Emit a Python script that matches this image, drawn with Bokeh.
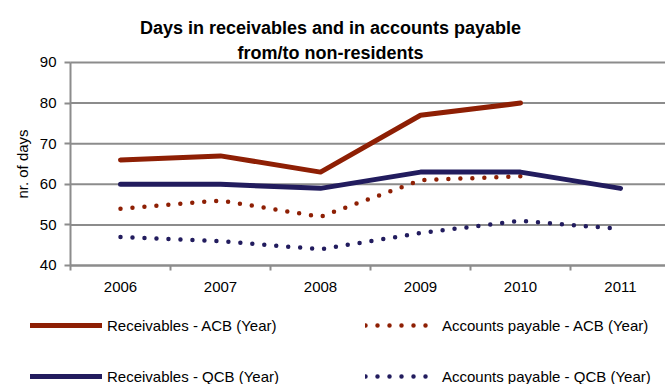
from bokeh.plotting import figure
from bokeh.models import Range1d, FixedTicker, Legend, LegendItem, Label
from bokeh.embed import file_html
from bokeh.resources import INLINE

years = ["2006", "2007", "2008", "2009", "2010", "2011"]
rec_acb = [66, 67, 63, 77, 80]
ap_acb = [54, 56, 52, 61, 62]
rec_qcb = [60, 60, 59, 63, 63, 59]
ap_qcb = [47, 46, 44, 48, 51, 49]
y_ticks = [40, 50, 60, 70, 80, 90]
title_lines = ["Days in receivables and in accounts payable", "from/to non-residents"]

RED = "#8e1f04"
NAVY = "#221c5e"
GRID = "#8c8c8c"
FONT = "Liberation Sans, Arial, sans-serif"

pos = [i + 0.5 for i in range(len(years))]

# the frame covers the whole canvas; axes are pinned inside it
p = figure(width=665, height=384, output_backend="svg", toolbar_location=None,
           x_range=Range1d(-0.70, 5.95), y_range=Range1d(10.69, 105.27),
           min_border_left=0, min_border_right=0, min_border_top=0, min_border_bottom=0)
p.outline_line_color = None
p.background_fill_color = "white"
p.border_fill_color = "white"

for txt, sy in zip(title_lines, [357, 332]):
    p.add_layout(Label(x=330, y=sy, x_units="screen", y_units="screen", text=txt,
                       text_align="center", text_baseline="middle", text_font=FONT,
                       text_font_size="18px", text_font_style="bold", text_color="black"))

# gridlines from the y axis to the right edge
p.xgrid.grid_line_color = None
p.ygrid.grid_line_color = None
p.segment(x0=[0] * len(y_ticks), x1=[len(years)] * len(y_ticks), y0=y_ticks, y1=y_ticks,
          line_color=GRID, line_width=2)

xa = p.xaxis[0]
xa.fixed_location = y_ticks[0]
xa.bounds = (0, len(years))
xa.ticker = FixedTicker(ticks=pos, minor_ticks=list(range(len(years) + 1)))
xa.major_label_overrides = {pos[i]: years[i] for i in range(len(years))}
xa.major_tick_line_color = None
xa.major_tick_in = 0
xa.major_tick_out = 5
xa.minor_tick_in = 0
xa.minor_tick_out = 5
xa.minor_tick_line_color = GRID
xa.minor_tick_line_width = 2
xa.axis_line_color = GRID
xa.axis_line_width = 2
xa.major_label_text_font = FONT
xa.major_label_text_font_size = "15px"
xa.major_label_text_color = "black"
xa.major_label_standoff = 12

ya = p.yaxis[0]
ya.fixed_location = 0
ya.bounds = (y_ticks[0], y_ticks[-1])
ya.ticker = FixedTicker(ticks=y_ticks, minor_ticks=[])
ya.major_tick_in = 0
ya.major_tick_out = 6
ya.major_tick_line_color = GRID
ya.major_tick_line_width = 2
ya.axis_line_color = GRID
ya.axis_line_width = 2
ya.major_label_text_font = FONT
ya.major_label_text_font_size = "15px"
ya.major_label_text_color = "black"
ya.major_label_standoff = 8
ya.axis_label = "nr. of days"
ya.axis_label_text_font = FONT
ya.axis_label_text_font_size = "15px"
ya.axis_label_text_font_style = "normal"
ya.axis_label_text_color = "black"
ya.axis_label_standoff = 6

r1 = p.line(pos[:len(rec_acb)], rec_acb, line_color=RED, line_width=5, line_cap="round", line_join="round")
r2 = p.line(pos[:len(ap_acb)], ap_acb, line_color=RED, line_width=4.5, line_dash="0 12", line_cap="round")
r3 = p.line(pos[:len(rec_qcb)], rec_qcb, line_color=NAVY, line_width=5, line_cap="round", line_join="round")
r4 = p.line(pos[:len(ap_qcb)], ap_qcb, line_color=NAVY, line_width=4.5, line_dash="0 12", line_cap="round")

legend = Legend(items=[
    LegendItem(label="Receivables - ACB (Year)", renderers=[r1]),
    LegendItem(label="Accounts payable - ACB (Year)", renderers=[r2]),
    LegendItem(label="Receivables - QCB (Year)", renderers=[r3]),
    LegendItem(label="Accounts payable - QCB (Year)", renderers=[r4]),
], location=(30, -2), ncols=2, orientation="horizontal",
    glyph_width=72, glyph_height=20, label_height=20, label_standoff=5,
    spacing=31, label_width=227, padding=0, margin=0,
    border_line_color=None, background_fill_alpha=0,
    label_text_font=FONT, label_text_font_size="15px", label_text_color="black")
p.add_layout(legend, "center")

open("out.html", "w").write(file_html(p, INLINE))
